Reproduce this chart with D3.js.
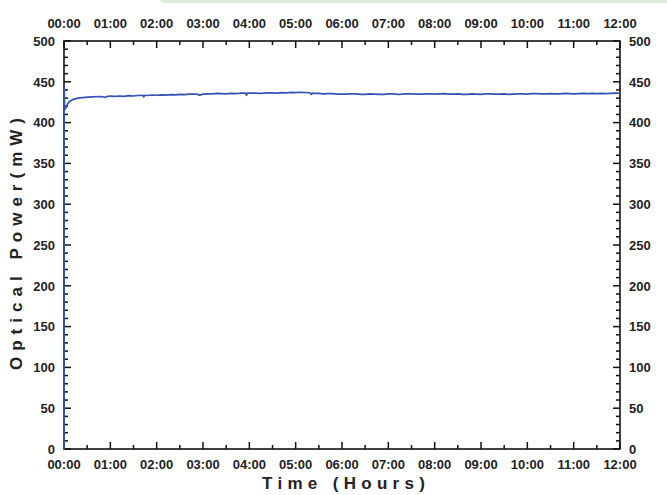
<!DOCTYPE html>
<html><head><meta charset="utf-8">
<script src="https://cdn.jsdelivr.net/npm/d3@7"></script>
<style>html,body{margin:0;padding:0;background:#fff;}svg{display:block;}</style>
</head><body>
<script>
const hourLabels = ["00:00","01:00","02:00","03:00","04:00","05:00","06:00","07:00","08:00","09:00","10:00","11:00","12:00"];
const yTicks = [0,50,100,150,200,250,300,350,400,450,500];
const timeHours = [0,0.004,0.015,0.04,0.08,0.12,0.2,0.3,0.45,0.6,0.8,0.9,0.95,1.0,1.1,1.2,1.3,1.4,1.5,1.6,1.7,1.72,1.74,1.8,1.9,2.0,2.1,2.2,2.3,2.4,2.5,2.6,2.7,2.85,2.93,3.0,3.1,3.2,3.3,3.4,3.5,3.6,3.7,3.8,3.92,3.94,3.96,4.1,4.2,4.3,4.4,4.5,4.6,4.7,4.8,4.9,5.0,5.1,5.2,5.3,5.34,5.36,5.4,5.5,5.6,5.7,5.8,5.9,6.0,6.1,6.2,6.3,6.4,6.5,6.6,6.7,6.8,6.9,7.0,7.1,7.2,7.3,7.4,7.5,7.6,7.7,7.8,7.9,8.0,8.1,8.2,8.3,8.4,8.5,8.6,8.7,8.8,8.9,9.0,9.1,9.2,9.3,9.4,9.5,9.6,9.7,9.8,9.9,10.0,10.1,10.2,10.3,10.4,10.5,10.6,10.7,10.8,10.9,11.0,11.1,11.2,11.3,11.4,11.5,11.6,11.7,11.8,11.9,12.0];
const powerMW = [0,445,416,418,423,426,428.5,430,431,431.5,432,431,432.3,432.5,432.1,432.6,432.2,433,432.6,433.2,433.4,431.5,433.5,433.2,433.8,433.5,434,433.7,434.3,434,434.6,434.2,434.8,435,433.6,434.8,435.3,435.2,435.7,435.6,435.3,435.8,435.5,436,436.2,433.5,436.2,436.3,435.9,436.1,436.5,436.4,436.1,436.7,436.4,437,436.8,437.2,436.9,436.6,434.5,436.3,435.7,435.8,435.2,435.4,435.6,435,434.8,434.8,435.3,435.2,434.7,434.6,435.1,434.9,434.5,434.7,435.2,435.1,434.7,434.8,435.3,435.2,434.8,434.9,435.3,435.3,434.9,435.1,435.4,434.8,435,435.2,434.6,434.7,435.1,435,434.6,435.2,435.3,434.8,434.9,435.1,434.6,434.9,435.2,435.3,434.9,435.4,435.6,435.1,435.2,435.5,435.2,435.3,435.7,435.6,435.2,435.5,435.8,435.4,435.8,435.6,435.9,435.5,435.8,436,436.2];

const W = 667, H = 495;
const m = {l:64, r:620, t:41, b:449};
const svg = d3.select("body").append("svg").attr("width",W).attr("height",H);

svg.append("rect").attr("x",158).attr("y",-12).attr("width",530).attr("height",15).attr("rx",7).attr("fill","#d9eed5");

const x = d3.scaleLinear().domain([0,12]).range([m.l,m.r]);
const y = d3.scaleLinear().domain([0,500]).range([m.b,m.t]);

const font = "'Liberation Sans', Arial, sans-serif";
const g = svg.append("g");

const majorX = d3.range(0,13,1), minorX = d3.range(0.5,12,1);
const majorY = yTicks, minorY = d3.range(0,501,10).filter(v=>v%50!==0);

function tick(x1,y1,x2,y2){g.append("line").attr("x1",x1).attr("y1",y1).attr("x2",x2).attr("y2",y2).attr("stroke","#111").attr("stroke-width",1.5);}
majorX.forEach(h=>{tick(x(h),m.b,x(h),m.b-7);tick(x(h),m.t,x(h),m.t+7);});
minorX.forEach(h=>{tick(x(h),m.b,x(h),m.b-4);tick(x(h),m.t,x(h),m.t+4);});
majorY.forEach(v=>{tick(m.l,y(v),m.l+7,y(v));tick(m.r,y(v),m.r-7,y(v));});
minorY.forEach(v=>{tick(m.l,y(v),m.l+4,y(v));tick(m.r,y(v),m.r-4,y(v));});

g.append("rect").attr("x",m.l).attr("y",m.t).attr("width",m.r-m.l).attr("height",m.b-m.t)
 .attr("fill","none").attr("stroke","#111").attr("stroke-width",1.6);

const line = d3.line().x((d,i)=>x(timeHours[i])).y(d=>y(d));
g.append("path").datum(powerMW).attr("d",line).attr("fill","none").attr("stroke","#3452b4").attr("stroke-width",1.7).attr("stroke-linejoin","round");

const lab = {"font-family":font,"font-weight":"bold","font-size":"13px","fill":"#222"};
function applyStyle(sel){Object.entries(lab).forEach(([k,v])=>sel.attr(k,v));return sel;}
hourLabels.forEach((t,i)=>{
  applyStyle(svg.append("text")).attr("x",x(majorX[i])).attr("y",468.5).attr("text-anchor","middle").text(t);
  applyStyle(svg.append("text")).attr("x",x(majorX[i])).attr("y",27.5).attr("text-anchor","middle").text(t);
});
yTicks.forEach(v=>{
  applyStyle(svg.append("text")).attr("x",55).attr("y",y(v)+4.7).attr("text-anchor","end").text(v);
  applyStyle(svg.append("text")).attr("x",629).attr("y",y(v)+4.7).attr("text-anchor","start").text(v);
});

svg.append("text").attr("x",262).attr("y",489).attr("font-family",font).attr("font-weight","bold").attr("font-size","17px").attr("fill","#222")
 .attr("textLength",163).attr("lengthAdjust","spacing").text("Time (Hours)");
svg.append("text").attr("transform","translate(22,370) rotate(-90)").attr("x",0).attr("y",0).attr("font-family",font).attr("font-weight","bold").attr("font-size","17px").attr("fill","#222")
 .attr("textLength",252).attr("lengthAdjust","spacing").text("Optical Power(mW)");
</script>
</body></html>
